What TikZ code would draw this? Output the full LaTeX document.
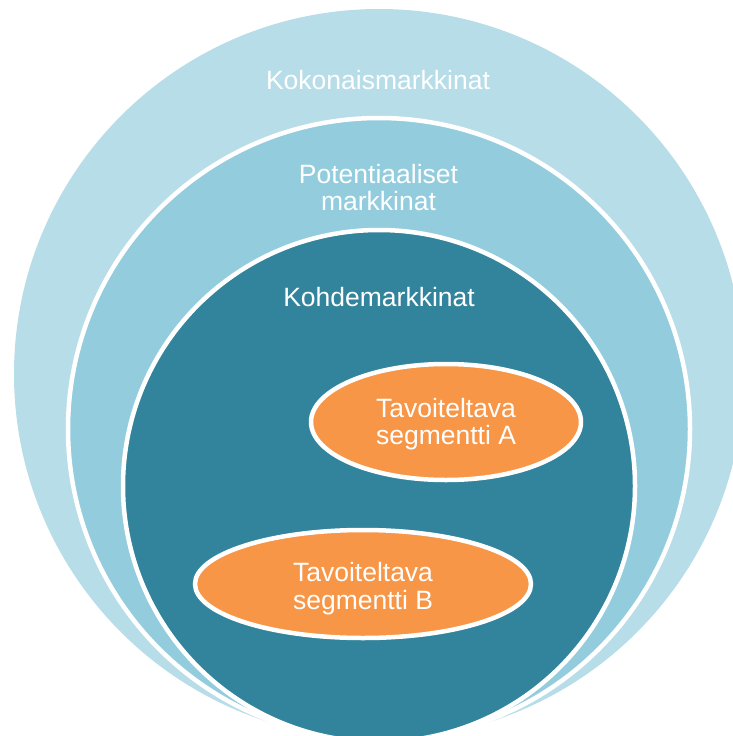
\documentclass[tikz,border=0pt]{standalone}
\usepackage{fontspec}
\setmainfont{Liberation Sans}
\usetikzlibrary{shapes.geometric}
\definecolor{outerblue}{HTML}{B7DDE8}
\definecolor{midblue}{HTML}{93CDDD}
\definecolor{deepteal}{HTML}{31849B}
\definecolor{segorange}{HTML}{F79646}
\begin{document}
\begin{tikzpicture}[x=1pt,y=-1pt,
  ring/.style={circle, inner sep=0pt, line width=4.5pt, draw=white},
  segment/.style={ellipse, inner sep=0pt, fill=segorange, draw=white, line width=4.5pt},
  lbl/.style={text=white, align=center, inner sep=0pt,
    font=\fontsize{26.5}{27.5}\selectfont}]
\useasboundingbox (0,0) rectangle (733,736);
\clip (0,0) rectangle (733,736);
% nested markets, all touching near the bottom edge
\node[ring, fill=outerblue, draw=none, minimum size=730pt] (total) at (379,374) {};
\node[ring, fill=midblue, minimum size=622pt] (potential) at (379,429) {};
\node[ring, fill=deepteal, minimum size=512pt] (target) at (379,486) {};
% target segments
\node[segment, minimum width=270pt, minimum height=116pt] (segA) at (446,422) {};
\node[segment, minimum width=336pt, minimum height=108pt] (segB) at (363,584) {};
% labels
\node[lbl, anchor=base] (totalLbl) at (378,89) {Kokonaismarkkinat};
\node[lbl] (potentialLbl) at (378.5,187.7) {Potentiaaliset\\markkinat};
\node[lbl, anchor=base] (targetLbl) at (379,306) {Kohdemarkkinat};
\node[lbl] (segALbl) at (446,423.9) {Tavoiteltava\\segmentti A};
\node[lbl] (segBLbl) at (363,588.5) {Tavoiteltava\\segmentti B};
\end{tikzpicture}
\end{document}
